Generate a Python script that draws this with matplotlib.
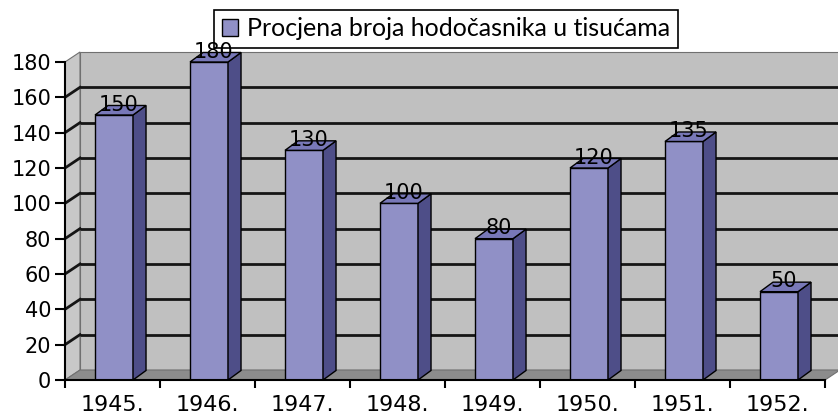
import matplotlib.pyplot as plt
from matplotlib.patches import Polygon, Patch

years = ["1945.", "1946.", "1947.", "1948.", "1949.", "1950.", "1951.", "1952."]
values = [150, 180, 130, 100, 80, 120, 135, 50]
yticks = [0, 20, 40, 60, 80, 100, 120, 140, 160, 180]
legend_label = "Procjena broja hodočasnika u tisućama"

front = "#9090C6"
side = "#4E4E88"
top = "#7878B8"
wall = "#C0C0C0"
floor = "#8C8C8C"

# pixel scale: 95 px per category, 1.7667 px per unit
dxw, dyw = 15 / 95, 10 / 1.7667      # wall depth
dxb, dyb = 13 / 95, 9.5 / 1.7667     # bar depth
n = len(values)
xmax = n - 0.5 + dxw

fig = plt.figure(figsize=(8.38, 4.19), dpi=100)
ax = fig.add_axes([65 / 838, 39 / 419, 775 / 838, 335 / 419])
ax.set_xlim(-0.5, xmax)
ax.set_ylim(0, 335 / 1.7667)
ax.set_facecolor("none")

x0 = -0.5
# back wall
ax.add_patch(Polygon([(x0 + dxw, dyw), (xmax, dyw), (xmax, 180 + dyw), (x0 + dxw, 180 + dyw)],
                     closed=True, fc=wall, ec="#707070", lw=0.8, zorder=1, clip_on=False))
# left wall
ax.add_patch(Polygon([(x0, 0), (x0 + dxw, dyw), (x0 + dxw, 180 + dyw), (x0, 180)],
                     closed=True, fc="#C8C8C8", ec="#707070", lw=0.8, zorder=1, clip_on=False))
# gridlines
for v in yticks[1:-1]:
    ax.plot([x0 + dxw, xmax], [v + dyw, v + dyw], color="#151515", lw=2.0, zorder=2,
            solid_capstyle="butt", clip_on=False)
    ax.plot([x0, x0 + dxw], [v, v + dyw], color="#151515", lw=2.0, zorder=2, clip_on=False)
# floor
ax.add_patch(Polygon([(x0, 0), (n - 0.5, 0), (n - 0.5 + dxw, dyw), (x0 + dxw, dyw)],
                     closed=True, fc=floor, ec="#707070", lw=0.8, zorder=3, clip_on=False))

# bars
xs = [i - 0.184 for i in range(n)]
w = 0.4
ax.bar(xs, values, width=w, align="edge", color=front, edgecolor="black",
       lw=1.0, zorder=5)
for x, v in zip(xs, values):
    ax.add_patch(Polygon([(x + w, 0), (x + w + dxb, dyb), (x + w + dxb, v + dyb), (x + w, v)],
                         closed=True, fc=side, ec="black", lw=1.0, zorder=5))
    ax.add_patch(Polygon([(x, v), (x + w, v), (x + w + dxb, v + dyb), (x + dxb, v + dyb)],
                         closed=True, fc=top, ec="black", lw=1.0, zorder=5))
    ax.text(x + w / 2 + 0.05, v + 2.5, str(v), ha="center", va="baseline",
            fontsize=15, color="black", zorder=8, clip_on=False)

# axes
for s in ["top", "right"]:
    ax.spines[s].set_visible(False)
ax.spines["left"].set_bounds(0, 180)
ax.spines["bottom"].set_bounds(-0.5, n - 0.5)
for s in ["left", "bottom"]:
    ax.spines[s].set_linewidth(1.5)
    ax.spines[s].set_zorder(7)
ax.set_yticks(yticks)
ax.set_yticklabels([str(t) for t in yticks], fontsize=15)
ax.tick_params(axis="y", direction="out", length=7, width=1.5, pad=3)
ax.set_xticks([i - 0.5 for i in range(n + 1)])
ax.set_xticklabels([])
ax.set_xticks(range(n), minor=True)
ax.set_xticklabels(years, minor=True, fontsize=16)
ax.tick_params(axis="x", which="major", direction="out", length=6, width=1.5)
ax.tick_params(axis="x", which="minor", length=0, pad=11)

leg = ax.legend(handles=[Patch(fc=front, ec="black", lw=1.0)], labels=[legend_label],
                loc="upper center", bbox_to_anchor=(446 / 838, 1 - 10 / 419),
                bbox_transform=fig.transFigure, borderaxespad=0,
                frameon=True, fancybox=False, edgecolor="black", framealpha=1,
                borderpad=0.3, handlelength=0.65, handleheight=0.65, handletextpad=0.35,
                prop={"family": "Lato", "size": 18})
leg.get_frame().set_linewidth(1.2)
leg.set_zorder(7.5)

fig.savefig("out.png", dpi=100)
